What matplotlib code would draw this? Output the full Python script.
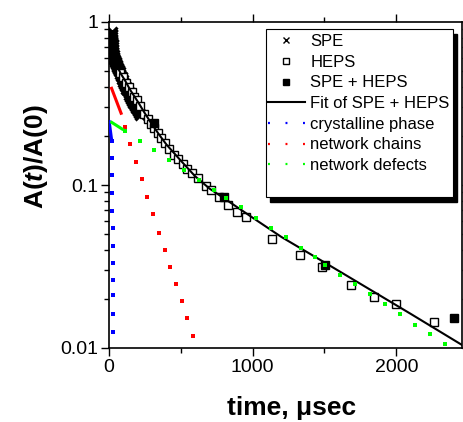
import numpy as np
import matplotlib
matplotlib.use('Agg')
import matplotlib.pyplot as plt
from matplotlib.lines import Line2D
from matplotlib.patches import Rectangle
from matplotlib.ticker import LogLocator, NullFormatter

plt.rcParams['font.family'] = ['Liberation Sans', 'DejaVu Sans']
plt.rcParams['mathtext.fontset'] = 'custom'
plt.rcParams['mathtext.rm'] = 'Liberation Sans:bold'
plt.rcParams['mathtext.it'] = 'Liberation Sans:bold:italic'
plt.rcParams['lines.scale_dashes'] = False

# SPE echo amplitudes (short times)
spe_t = [18, 19, 20, 21, 22, 23, 24, 25, 26, 27, 28, 29, 30, 31, 32, 33, 34, 36, 38, 40,
         42, 44, 46, 48, 50, 53, 56, 59, 62, 65, 68, 72, 76, 80, 84, 88, 92, 96, 100,
         105, 110, 115, 120, 125, 130, 136, 142, 148, 154, 160, 166, 172, 178, 185, 192,
         199, 206, 213]
spe_a = [0.87, 0.85, 0.83, 0.81, 0.79, 0.77, 0.75, 0.735, 0.72, 0.70, 0.685, 0.67, 0.655,
         0.64, 0.625, 0.61, 0.60, 0.595, 0.589, 0.583, 0.577, 0.571, 0.565, 0.56, 0.554,
         0.546, 0.538, 0.53, 0.522, 0.515, 0.508, 0.499, 0.49, 0.479, 0.468, 0.458,
         0.448, 0.438, 0.428, 0.415, 0.403, 0.397, 0.39, 0.382, 0.375, 0.366, 0.357,
         0.347, 0.336, 0.328, 0.32, 0.313, 0.306, 0.298, 0.291, 0.284, 0.277, 0.27]

# HEPS amplitudes
heps_t = [79, 100, 118, 137, 157, 176, 194, 218, 245, 269, 292, 315, 338, 361, 389, 419,
          449, 481, 512, 546, 581, 620, 674, 708, 766, 831, 894, 954, 1137, 1329, 1484,
          1681, 1843, 2000, 2264]
heps_a = [0.485, 0.458, 0.425, 0.397, 0.374, 0.348, 0.332, 0.305, 0.272, 0.253, 0.237,
          0.225, 0.208, 0.193, 0.18, 0.166, 0.153, 0.144, 0.134, 0.125, 0.118, 0.11,
          0.098, 0.093, 0.085, 0.075, 0.0686, 0.0634, 0.0464, 0.0372, 0.0313, 0.0244,
          0.0206, 0.0187, 0.0145]

# combined SPE + HEPS points
both_t = [315, 801, 1502, 2398]
both_a = [0.241, 0.084, 0.0323, 0.0152]

# fit of SPE + HEPS
fit_t = [0, 10, 20, 30, 40, 60, 80, 110, 150, 200, 250, 300, 350, 400, 500, 600, 700,
         800, 1000, 1200, 1500, 1800, 2100, 2460]
fit_a = [0.90, 0.83, 0.74, 0.64, 0.59, 0.53, 0.485, 0.44, 0.38, 0.325, 0.275, 0.235,
         0.203, 0.177, 0.141, 0.113, 0.095, 0.083, 0.063, 0.048, 0.0335, 0.0233,
         0.0162, 0.0104]

# fit components
cryst_head_t = [0, 18]
cryst_head_a = [0.25, 0.19]
cryst_t = [20, 21, 22, 23, 24, 25, 26, 27, 28, 29, 30, 31]
cryst_a = [0.186, 0.147, 0.115, 0.089, 0.069, 0.0546, 0.042, 0.033, 0.026, 0.021,
           0.0162, 0.0125]

chain_head_t = [14, 88]
chain_head_a = [0.40, 0.27]
chain_t = [111, 148, 188, 227, 266, 306, 350, 389, 426, 468, 505, 544, 583]
chain_a = [0.226, 0.178, 0.139, 0.109, 0.085, 0.0664, 0.0511, 0.040, 0.0313, 0.0248,
           0.0194, 0.0152, 0.0119]

defect_head_t = [10, 100]
defect_head_a = [0.245, 0.218]
defect_t = [111, 218, 315, 419, 519, 627, 729, 813, 917, 1021, 1125, 1229, 1333, 1437,
            1505, 1611, 1715, 1819, 1924, 2028, 2132, 2236, 2340]
defect_a = [0.214, 0.186, 0.164, 0.142, 0.123, 0.107, 0.093, 0.083, 0.0734, 0.0627,
            0.0546, 0.048, 0.041, 0.036, 0.0325, 0.028, 0.0247, 0.0214, 0.0185, 0.0161,
            0.0139, 0.0122, 0.0106]

W, H = 463, 422
fig = plt.figure(figsize=(W / 100, H / 100), dpi=100)
ax = fig.add_axes([109 / W, 1 - 348 / H, (461.7 - 109) / W, (348 - 22) / H])

ax.plot(spe_t, spe_a, ls='none', marker='x', ms=7, mew=2.2, color='k', zorder=2)
ax.plot(heps_t, heps_a, ls='none', marker='s', ms=5.5, mew=1, mfc='white', mec='k',
        zorder=3)
ax.plot(both_t, both_a, ls='none', marker='s', ms=5.5, mew=1, color='k', zorder=3)
ax.plot(fit_t, fit_a, color='k', lw=1.5, zorder=4)

# legend entries for the measured data and the fit
handles = [
    Line2D([], [], ls='none', marker='x', ms=4.5, mew=1, color='k', label='SPE'),
    Line2D([], [], ls='none', marker='s', ms=4.3, mew=1, mfc='white', mec='k',
           label='HEPS'),
    Line2D([], [], ls='none', marker='s', ms=4.3, mew=1, color='k', label='SPE + HEPS'),
    Line2D([], [], color='k', lw=1.5, label='Fit of SPE + HEPS'),
]

comp = [
    ('crystalline phase', 'blue', cryst_head_t, cryst_head_a, cryst_t, cryst_a),
    ('network chains', 'red', chain_head_t, chain_head_a, chain_t, chain_a),
    ('network defects', '#00ff00', defect_head_t, defect_head_a, defect_t, defect_a),
]
for name, col, ht, ha, dt, da in comp:
    ax.plot(ht, ha, color=col, lw=2.2, solid_capstyle='butt', zorder=5)
    ax.plot(dt, da, ls='none', marker='s', ms=2.2, mew=0, color=col, zorder=5)
    handles.append(Line2D([], [], color=col, lw=1.6, dashes=(1.4, 11.2),
                          dash_capstyle='butt', label=name))

ax.set_yscale('log')
ax.set_ylim(0.01, 1)
ax.set_xlim(0, 2455)
ax.set_xticks([0, 1000, 2000])
ax.set_xticks([500, 1500], minor=True)
ax.set_yticks([0.01, 0.1, 1], labels=['0.01', '0.1', '1'])
ax.yaxis.set_minor_locator(LogLocator(subs=np.arange(2, 10)))
ax.yaxis.set_minor_formatter(NullFormatter())
ax.tick_params(which='both', direction='out', top=True, right=True, width=1,
               labelsize=14, pad=2)
ax.tick_params(which='major', length=6)
ax.tick_params(which='minor', length=3.5)
for s in ax.spines.values():
    s.set_linewidth(1.2)

ax.set_xlabel('time, μsec', fontsize=19, fontweight='bold')
ax.xaxis.label.set_va('baseline')
ax.xaxis.set_label_coords((291.5 - 109) / 352.7, -(415 - 348) / 326)
ax.set_ylabel(r'$\mathrm{A(}\mathit{t}\mathrm{)/A(0)}$', fontsize=19)
ax.yaxis.label.set_va('baseline')
ax.yaxis.set_label_coords((43 - 109) / 352.7, (348 - 157) / 326)

# legend box with solid drop shadow
ax.add_patch(Rectangle((269.7 / W, 1 - 202 / H), 187 / W, 168 / H, color='k',
                       transform=fig.transFigure, clip_on=False, zorder=6))
ax.add_patch(Rectangle((265.7 / W, 1 - 197.3 / H), 187 / W, 168 / H, fc='white', ec='k',
                       lw=0.8, transform=fig.transFigure, clip_on=False, zorder=7))
leg = ax.legend(handles=handles, loc='upper left',
                bbox_to_anchor=(268 / W, 1 - 34 / H), bbox_transform=fig.transFigure,
                frameon=False, fontsize=12, borderpad=0, borderaxespad=0,
                handlelength=2.2, handletextpad=0.35, labelspacing=0.34, numpoints=1)
leg.set_zorder(8)

fig.savefig('out.png', dpi=100)
